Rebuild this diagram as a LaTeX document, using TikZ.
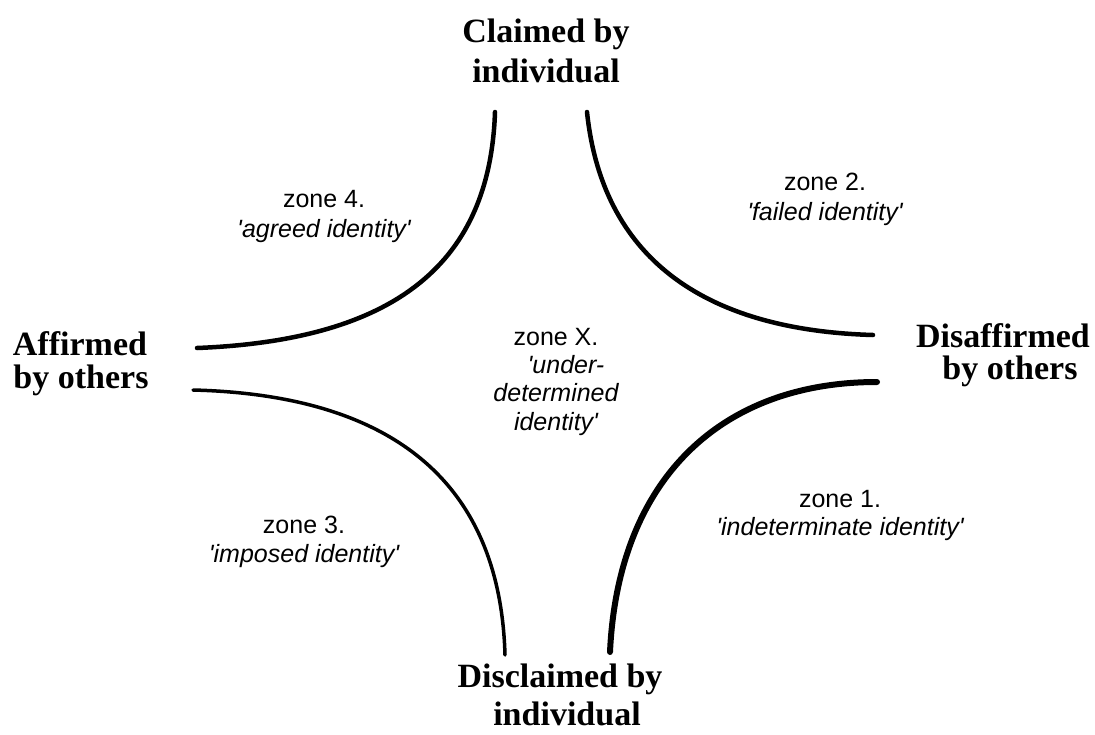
\documentclass[tikz,border=0pt]{standalone}
\usepackage{fontspec}
\setmainfont{Liberation Serif}
\newfontfamily\zonefont{Liberation Sans}
\newcommand{\q}{\textquotesingle}
\begin{document}
\begin{tikzpicture}[x=1pt,y=-1pt,
  big/.style={font=\bfseries\fontsize{34}{36}\selectfont, anchor=base, inner sep=0pt},
  zone/.style={font=\zonefont\fontsize{25}{29}\selectfont, anchor=base, inner sep=0pt},
  zonei/.style={zone, font=\zonefont\itshape\fontsize{25}{29}\selectfont},
  curve/.style={line cap=round, line join=round}]
\useasboundingbox[fill=white] (0,0) rectangle (1095,734);

% axis labels
\node[big] (claimA) at (546,42) {Claimed by};
\node[big] (claimB) at (546,82) {individual};
\node[big] (affA) at (80,355) {Affirmed};
\node[big] (affB) at (81,388) {by others};
\node[big] (disaffA) at (1003,347) {Disaffirmed};
\node[big] (disaffB) at (1010,379) {by others};
\node[big] (disclA) at (560,687) {Disclaimed by};
\node[big] (disclB) at (567,725) {individual};

% zone labels
\node[zone] (z4a) at (324,207) {zone 4.};
\node[zonei] (z4b) at (324,237) {\q agreed identity\q};
\node[zone] (z2a) at (825,190) {zone 2.};
\node[zonei] (z2b) at (825,220) {\q failed identity\q};
\node[zone] (zXa) at (556,345) {zone X.};
\node[zonei] (zXb) at (566,373) {\q under-};
\node[zonei] (zXc) at (556,401) {determined};
\node[zonei] (zXd) at (556,430) {identity\q};
\node[zone] (z3a) at (304,533) {zone 3.};
\node[zonei] (z3b) at (304,562) {\q imposed identity\q};
\node[zone] (z1a) at (840,507) {zone 1.};
\node[zonei] (z1b) at (840,535) {\q indeterminate identity\q};

% curves
\draw[curve, line width=4.5pt] (197,348) .. controls (400,340) and (490,260) .. (495,112);
\draw[curve, line width=4.5pt] (587,112) .. controls (602,255) and (700,330) .. (873,335);
\draw[curve, line width=3.5pt] (193,390) .. controls (390,395) and (500,480) .. (505,655);
\draw[curve, line width=6pt] (877,382) .. controls (720,382) and (618,480) .. (610,652);
\end{tikzpicture}
\end{document}
